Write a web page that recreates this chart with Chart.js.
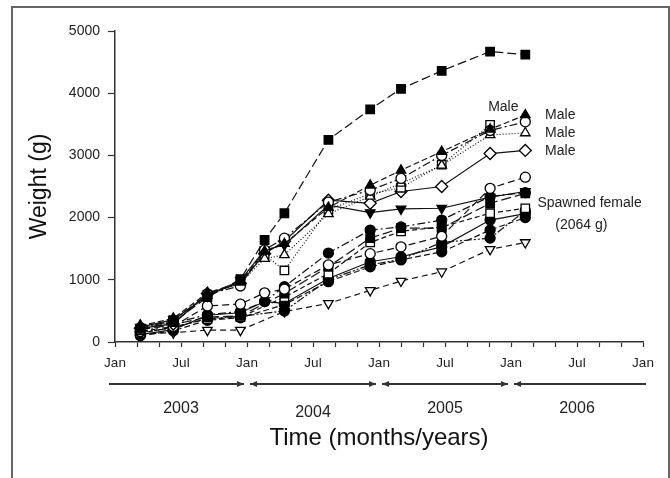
<!DOCTYPE html>
<html>
<head>
<meta charset="utf-8">
<script src="https://cdn.jsdelivr.net/npm/chart.js@4.4.1/dist/chart.umd.min.js"></script>
<style>
	body{ margin:0; background:#fff; }
	canvas{ display:block; }
</style>
</head>
<body>
<canvas id="weight_graph" width="670" height="478"></canvas>
<script>
const FONT = '"Liberation Sans", Arial, Helvetica, sans-serif'

// sampling dates, months since Jan 2003
const months = [2.3, 5.3, 8.4, 11.4, 13.6, 15.4, 19.4, 23.2, 26.0, 29.7, 34.1, 37.3]

// weights (g) per fish
const bigFish = [210, 320, 720, 1010, 1640, 2070, 3250, 3740, 4070, 4360, 4670, 4620]
const maleTri = [260, 380, 790, 960, 1460, 1580, 2160, 2520, 2760, 3060, 3420, 3650]
const maleCircle = [230, 340, 770, 900, 1480, 1670, 2250, 2440, 2630, 3000, 3400, 3540]
const maleOpenTri = [270, 300, 750, 950, 1340, 1400, 2060, 2340, 2550, 2840, 3330, 3360]
const maleSquare = [190, 350, 760, 980, 1400, 1150, 2130, 2380, 2480, 2850, 3490, null]
const maleDiamond = [220, 290, 780, 940, 1420, 1620, 2280, 2230, 2420, 2500, 3030, 3080]
const flatFish = [240, 360, 740, 990, 1480, 1560, 2200, 2080, 2140, 2150, 2330, 2420]
const fem1 = [170, 250, 580, 610, 790, 850, 1240, 1420, 1530, 1700, 2470, 2650]
const fem2 = [160, 300, 440, 490, 650, 890, 1430, 1800, 1850, 1960, 2340, 2400]
const fem3 = [200, 280, 400, 420, null, 780, 1210, 1670, 1830, 1830, 2230, 2390]
const fem4 = [140, 240, 370, 400, null, 720, 1100, 1600, 1780, 1850, 2070, 2150]
const spawned = [120, 200, 430, 470, 650, 620, 1020, 1290, 1370, 1530, 1960, 2064]
const fem6 = [100, 180, 350, 390, null, 600, 970, 1210, 1320, 1450, 1800, 2000]
const fem7 = [150, 230, 380, 410, null, 500, 1000, 1240, 1330, 1600, 1670, 2110]
const smallFish = [130, 150, 190, 190, null, 490, 620, 830, 980, 1130, 1490, 1600]

const tickNames = ['Jan', 'Jul', 'Jan', 'Jul', 'Jan', 'Jul', 'Jan', 'Jul', 'Jan']
const years = ['2003', '2004', '2005', '2006']
const maleLabels = [3650, 3360, 3070]


function series(values, shape, filled, dash, rotation){
	let radius = 5
	if(shape === 'rect') radius = 6
	if(shape === 'rectRot') radius = 6
	if(shape === 'triangle') radius = 5.5
	return {
		data:values.map((v, i) => ({ x:months[i], y:v })),
		spanGaps:true,
		borderColor:'#111',
		borderWidth:1.2,
		borderDash:dash,
		pointStyle:shape,
		pointRotation:rotation || 0,
		pointRadius:radius,
		pointBorderWidth:1.3,
		pointBorderColor:'#000',
		pointBackgroundColor:filled ? '#000' : '#fff',
		tension:0
	}
}

const datasets = [
	series(bigFish, 'rect', true, [9, 4]),
	series(maleTri, 'triangle', true, [6, 3]),
	series(maleCircle, 'circle', false, [8, 3, 2, 3]),
	series(maleOpenTri, 'triangle', false, [1, 2]),
	series(maleSquare, 'rect', false, [1, 2]),
	series(maleDiamond, 'rectRot', false, []),
	series(flatFish, 'triangle', true, [], 180),
	series(fem1, 'circle', false, [7, 4]),
	series(fem2, 'circle', true, [8, 3, 2, 3]),
	series(fem3, 'rect', true, [10, 4]),
	series(fem4, 'rect', false, [5, 3]),
	series(spawned, 'circle', true, []),
	series(fem6, 'circle', true, [6, 3]),
	series(fem7, 'circle', true, [8, 2, 2, 2, 2, 2]),
	series(smallFish, 'triangle', false, [6, 4], 180)
]


function arrowHead(ctx, x, y, dir){
	ctx.beginPath()
	ctx.moveTo(x, y)
	ctx.lineTo(x - dir*7, y - 3)
	ctx.lineTo(x - dir*7, y + 3)
	ctx.closePath()
	ctx.fill()
}

const extras = {
	id:'extras',
	beforeDraw(chart){
		const { ctx } = chart
		ctx.save()
		ctx.fillStyle = '#fff'
		ctx.fillRect(0, 0, chart.width, chart.height)
		ctx.restore()
	},
	afterDraw(chart){
		const { ctx, scales:{ x, y } } = chart
		ctx.save()

		// outer frame
		ctx.strokeStyle = '#666'
		ctx.lineWidth = 2
		ctx.strokeRect(12, 7, 657, 490)

		// year arrows
		const ay = 384
		ctx.lineWidth = 2
		years.forEach((yr, i) => {
			const b0 = x.getPixelForValue(i*12)
			const b1 = x.getPixelForValue((i + 1)*12)
			const x0 = i === 0 ? b0 - 6 : b0 + 3
			const x1 = i === years.length - 1 ? b1 + 3 : b1 - 3
			ctx.strokeStyle = '#333'
			ctx.fillStyle = '#333'
			ctx.beginPath()
			ctx.moveTo(x0, ay)
			ctx.lineTo(x1, ay)
			ctx.stroke()
			if(i > 0) arrowHead(ctx, x0, ay, -1)
			if(i < years.length - 1) arrowHead(ctx, x1, ay, 1)

			ctx.font = '16px ' + FONT
			ctx.fillStyle = '#222'
			ctx.textAlign = 'center'
			ctx.textBaseline = 'middle'
			ctx.fillText(yr, (b0 + b1)/2, i === 1 ? 413 : 409)
		})

		// annotations
		ctx.fillStyle = '#222'
		ctx.font = '14px ' + FONT
		ctx.textBaseline = 'middle'
		ctx.textAlign = 'center'
		ctx.fillText('Male', x.getPixelForValue(35.3), y.getPixelForValue(3780))
		ctx.textAlign = 'left'
		for(const v of maleLabels) ctx.fillText('Male', x.getPixelForValue(39.1), y.getPixelForValue(v))
		ctx.fillText('Spawned female', x.getPixelForValue(38.4), y.getPixelForValue(2235))
		ctx.textAlign = 'center'
		ctx.fillText('(2064 g)', x.getPixelForValue(42.4), y.getPixelForValue(1880))

		ctx.restore()
	}
}


new Chart(document.getElementById('weight_graph'), {
	type:'line',
	data:{ datasets },
	plugins:[extras],
	options:{
		responsive:false,
		animation:false,
		layout:{ padding:{ left:0, top:31, right:27, bottom:0 } },
		plugins:{
			legend:{ display:false },
			tooltip:{ enabled:false }
		},
		scales:{
			x:{
				type:'linear',
				min:0,
				max:48,
				afterFit:s => { s.height = 136 },
				ticks:{
					stepSize:2,
					autoSkip:false,
					maxRotation:0,
					padding:8,
					color:'#222',
					font:{ family:FONT, size:13.5 },
					callback:v => v % 6 === 0 ? tickNames[v/6] : ''
				},
				grid:{ drawOnChartArea:false, tickLength:5, color:'#333', tickWidth:1.2 },
				border:{ color:'#333', width:1.5 },
				title:{
					display:true,
					text:'Time (months/years)',
					color:'#111',
					font:{ family:FONT, size:24 },
					padding:{ top:0, bottom:25 }
				}
			},
			y:{
				type:'linear',
				min:0,
				max:5000,
				afterFit:s => { s.width = 115 },
				ticks:{
					stepSize:1000,
					padding:8,
					color:'#222',
					font:{ family:FONT, size:14 },
					callback:v => String(v)
				},
				grid:{ drawOnChartArea:false, tickLength:7, color:'#333', tickWidth:1.2 },
				border:{ color:'#333', width:1.5 },
				title:{
					display:true,
					text:'Weight (g)',
					color:'#111',
					font:{ family:FONT, size:23 },
					padding:{ top:26, bottom:0 }
				}
			}
		}
	}
})
</script>
</body>
</html>
